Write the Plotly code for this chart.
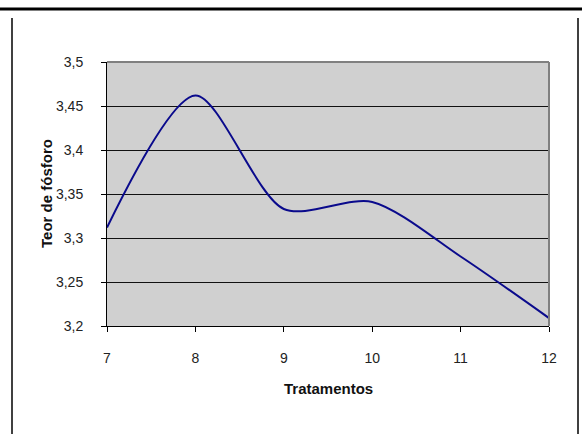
import plotly.graph_objects as go

tratamentos = [7, 8, 9, 10, 11, 12]
teor_fosforo = [3.312, 3.462, 3.333, 3.341, 3.279, 3.209]
y_tick_vals = [3.2, 3.25, 3.3, 3.35, 3.4, 3.45, 3.5]
y_tick_text = ["3,2", "3,25", "3,3", "3,35", "3,4", "3,45", "3,5"]
x_tick_vals = [7, 8, 9, 10, 11, 12]

W, H = 582, 434
L, R, T, B = 107, 549, 62, 326
pw, ph = R - L, B - T

def px(x):
    return (x - L) / pw

def py(y):
    return (B - y) / ph

fig = go.Figure()
fig.add_trace(go.Scatter(
    x=tratamentos, y=teor_fosforo, mode="lines",
    line=dict(color="#0A0A8C", width=2, shape="spline", smoothing=0.8),
    hoverinfo="skip", showlegend=False,
))

tick_font = dict(family="Liberation Sans, Arial", size=14, color="#222222")
title_font = dict(family="Liberation Sans, Arial", size=15, color="#111111")

fig.update_layout(
    width=W, height=H,
    margin=dict(l=L, r=W - R, t=T, b=H - B, pad=0),
    paper_bgcolor="white", plot_bgcolor="#D0D0D0",
    xaxis=dict(
        range=[7, 12], tickvals=x_tick_vals, ticktext=[str(v) for v in x_tick_vals],
        showgrid=False, zeroline=False, showline=True, linecolor="black", linewidth=1,
        ticks="outside", ticklen=5, tickcolor="black", tickwidth=1,
        tickfont=tick_font, ticklabelstandoff=14,
    ),
    yaxis=dict(
        range=[3.2, 3.5], tickvals=y_tick_vals, ticktext=y_tick_text,
        showgrid=True, gridcolor="#111111", gridwidth=1,
        zeroline=False, showline=True, linecolor="black", linewidth=1,
        ticks="outside", ticklen=5, tickcolor="black", tickwidth=1,
        tickfont=tick_font, ticklabelstandoff=15,
    ),
    annotations=[
        dict(text="<b>Tratamentos</b>", xref="paper", yref="paper", x=0.5, y=py(388),
             xanchor="center", yanchor="middle", showarrow=False, font=title_font),
        dict(text="<b>Teor de fósforo</b>", xref="paper", yref="paper", x=px(46), y=py(193),
             xanchor="center", yanchor="middle", showarrow=False, textangle=-90, font=title_font),
    ],
    shapes=[
        dict(type="line", xref="paper", yref="paper", x0=px(0), x1=px(W), y0=py(9), y1=py(9),
             line=dict(color="black", width=3)),
        dict(type="line", xref="paper", yref="paper", x0=px(12), x1=px(12), y0=py(18), y1=py(H),
             line=dict(color="black", width=1.5)),
        dict(type="line", xref="paper", yref="paper", x0=px(578), x1=px(578), y0=py(18), y1=py(H),
             line=dict(color="black", width=1.5)),
        dict(type="line", xref="paper", yref="paper", x0=0, x1=1, y0=1, y1=1,
             line=dict(color="#808080", width=2)),
        dict(type="line", xref="paper", yref="paper", x0=1, x1=1, y0=0, y1=1,
             line=dict(color="#808080", width=2)),
    ],
)

fig.write_html("out.html")
